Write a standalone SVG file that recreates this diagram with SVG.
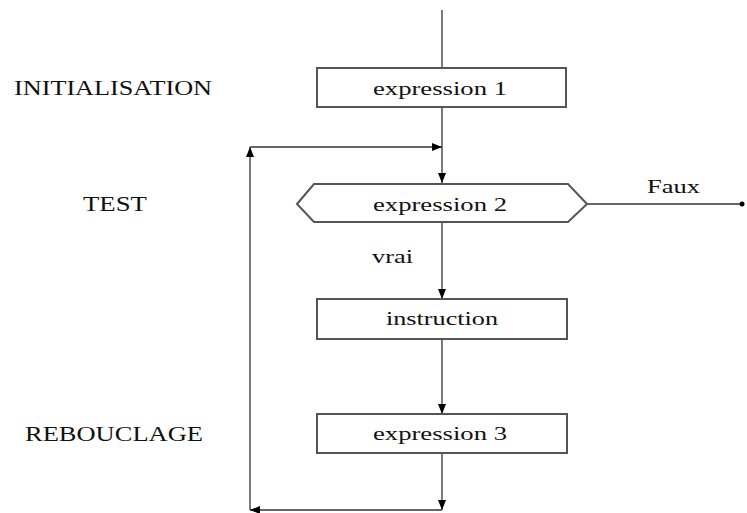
<svg xmlns="http://www.w3.org/2000/svg" width="747" height="513" viewBox="0 0 747 513">
<defs>
<marker id="ah" markerWidth="10" markerHeight="8" refX="10" refY="4" orient="auto" markerUnits="userSpaceOnUse">
<path d="M0,0 L10,4 L0,8 Z" fill="#000"/>
</marker>
</defs>
<style>
.n{fill:#fff;stroke:#555;stroke-width:2}
.c{fill:none;stroke:#333;stroke-width:1.3}
.t{font-family:"Liberation Serif",serif;font-size:19px;fill:#111}
.l{font-family:"Liberation Serif",serif;font-size:21px;fill:#111}
</style>
<rect width="747" height="513" fill="#fff"/>
<g id="labels">
<text class="l" x="14" y="95" textLength="198" lengthAdjust="spacingAndGlyphs">INITIALISATION</text>
<text class="l" x="83" y="211" textLength="64" lengthAdjust="spacingAndGlyphs">TEST</text>
<text class="l" x="25" y="441" textLength="178" lengthAdjust="spacingAndGlyphs">REBOUCLAGE</text>
</g>
<g id="connectors">
<line class="c" x1="442" y1="10" x2="442" y2="68"/>
<line class="c" x1="442" y1="107" x2="442" y2="183" marker-end="url(#ah)"/>
<line class="c" x1="250" y1="147" x2="442" y2="147" marker-end="url(#ah)"/>
<line class="c" x1="442" y1="222" x2="442" y2="299" marker-end="url(#ah)"/>
<line class="c" x1="442" y1="339" x2="442" y2="414" marker-end="url(#ah)"/>
<line class="c" x1="442" y1="453" x2="442" y2="510" marker-end="url(#ah)"/>
<line class="c" x1="442" y1="510" x2="250" y2="510" marker-end="url(#ah)"/>
<line class="c" x1="250" y1="510" x2="250" y2="147" marker-end="url(#ah)"/>
<line class="c" x1="587" y1="204" x2="742" y2="204"/>
<circle cx="742" cy="204" r="2.5" fill="#000"/>
<text class="t" x="647" y="193" textLength="53" lengthAdjust="spacingAndGlyphs">Faux</text>
<text class="t" x="372" y="263" textLength="41" lengthAdjust="spacingAndGlyphs">vrai</text>
</g>
<g id="expression1">
<rect class="n" x="317" y="68" width="249" height="39"/>
<text class="t" x="373" y="95" textLength="134" lengthAdjust="spacingAndGlyphs">expression 1</text>
</g>
<g id="expression2">
<polygon class="n" points="297,204 314,184 568,184 587,204 568,222 314,222"/>
<text class="t" x="373" y="211" textLength="134" lengthAdjust="spacingAndGlyphs">expression 2</text>
</g>
<g id="instruction">
<rect class="n" x="317" y="299" width="250" height="40"/>
<text class="t" x="386" y="325" textLength="112" lengthAdjust="spacingAndGlyphs">instruction</text>
</g>
<g id="expression3">
<rect class="n" x="317" y="414" width="250" height="39"/>
<text class="t" x="373" y="440" textLength="134" lengthAdjust="spacingAndGlyphs">expression 3</text>
</g>
</svg>
